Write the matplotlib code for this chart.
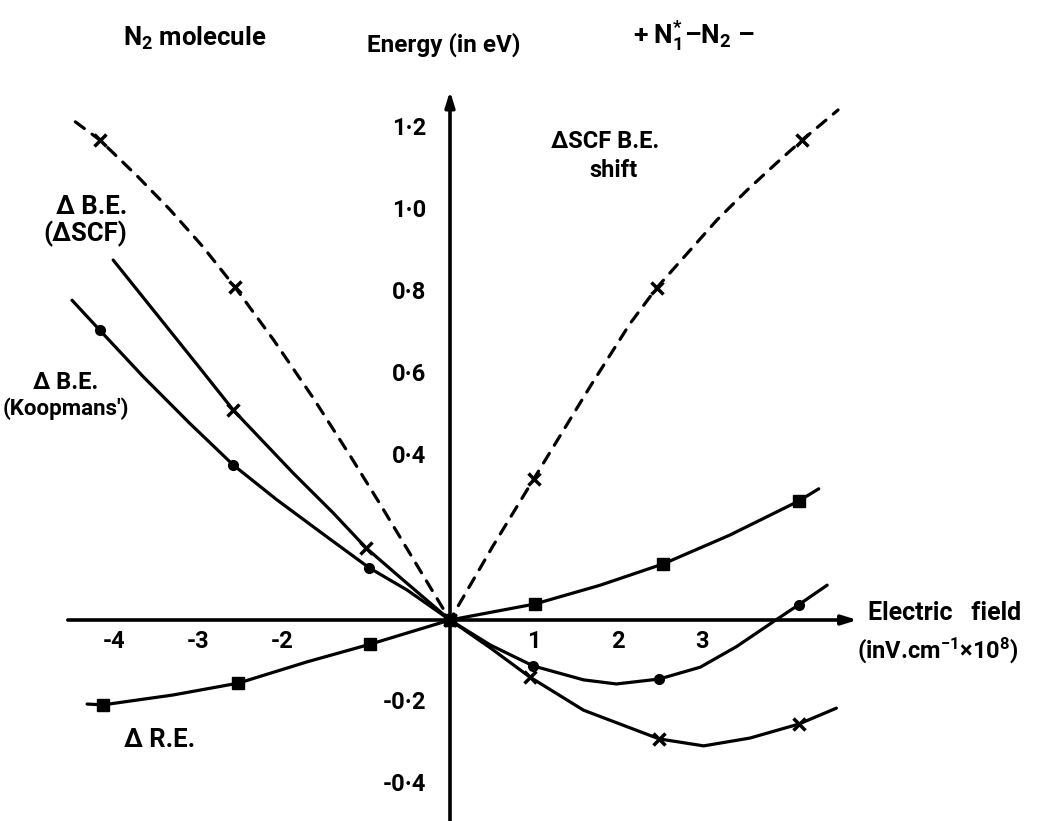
import matplotlib
matplotlib.use("Agg")
import matplotlib.pyplot as plt

# field in V/cm x 1e8, energies in eV
shift_x = [-4.46, -4.17, -3.71, -3.33, -2.94, -2.56, -2.1, -1.63, -1.19, -0.83, -0.48, 0,
           0.51, 1.0, 1.67, 2.14, 2.46, 2.82, 3.18, 3.54, 3.89, 4.19, 4.62]
shift_y = [1.215, 1.171, 1.08, 1.0, 0.91, 0.812, 0.683, 0.542, 0.401, 0.282, 0.163, 0,
           0.18, 0.345, 0.57, 0.722, 0.81, 0.893, 0.976, 1.049, 1.115, 1.17, 1.244]
shift_marks = [1, 5, 13, 16, 21]

scf_x = [-4.01, -3.45, -2.98, -2.58, -1.87, -1.39, -1.0, -0.56, 0,
         0.48, 0.95, 1.59, 2.49, 3.02, 3.57, 4.15, 4.6]
scf_y = [0.878, 0.735, 0.615, 0.512, 0.359, 0.261, 0.176, 0.098, 0,
         -0.068, -0.139, -0.22, -0.29, -0.307, -0.288, -0.254, -0.215]
scf_marks = [3, 6, 8, 10, 12, 15]

koop_x = [-4.5, -4.17, -3.65, -3.1, -2.58, -2.06, -1.46, -0.96, -0.51, 0,
          0.48, 0.99, 1.59, 1.98, 2.49, 2.98, 3.41, 3.85, 4.15, 4.49]
koop_y = [0.78, 0.707, 0.593, 0.48, 0.378, 0.293, 0.202, 0.127, 0.073, 0,
          -0.061, -0.112, -0.146, -0.156, -0.144, -0.115, -0.065, -0.004, 0.037, 0.085]
koop_marks = [1, 4, 7, 9, 11, 14, 18]

re_x = [-4.32, -4.13, -3.3, -2.52, -1.7, -0.95, 0, 1.01, 1.79, 2.54, 3.33, 4.15, 4.39]
re_y = [-0.205, -0.207, -0.183, -0.154, -0.102, -0.059, 0, 0.039, 0.085, 0.137, 0.207, 0.29, 0.32]
re_marks = [1, 3, 5, 6, 7, 9, 11]

xtick_vals = [-4, -3, -2, 1, 2, 3]
ytick_vals = [1.2, 1.0, 0.8, 0.6, 0.4, -0.2, -0.4]
ytick_text = ["1·2", "1·0", "0·8", "0·6", "0·4", "-0·2", "-0·4"]

plt.rcParams['font.family'] = ["Roboto", "DejaVu Sans"]
plt.rcParams['font.weight'] = 'bold'
plt.rcParams['mathtext.fontset'] = 'custom'
plt.rcParams['mathtext.bf'] = 'Roboto:bold'
plt.rcParams['mathtext.rm'] = 'Roboto:bold'
plt.rcParams['mathtext.default'] = 'bf'

W, H = 1037, 821
fig = plt.figure(figsize=(W/100, H/100), dpi=100)
ax = fig.add_axes([0, 0, 1, 1])
ox, oy, sx, sy = 450, 620, 84.0, 410.0   # origin pixel and pixels per unit
ax.set_xlim(-ox/sx, (W-ox)/sx)
ax.set_ylim(-(H-oy)/sy, oy/sy)
ax.axis('off')

arrow = dict(arrowstyle='-|>,head_length=0.9,head_width=0.28', lw=2.6, color='k', shrinkA=0, shrinkB=0)
ax.annotate("", xy=(4.85, 0), xytext=(-4.55, 0), arrowprops=arrow)
ax.annotate("", xy=(0, 1.29), xytext=(0, -0.5), arrowprops=arrow)

lw = 2.3
ax.plot(shift_x, shift_y, color='k', lw=lw, dashes=(3.5, 3), marker='x', ms=8, mew=2.5,
        markevery=shift_marks, dash_capstyle='round', dash_joinstyle='round')
ax.plot(scf_x, scf_y, color='k', lw=lw, marker='x', ms=8, mew=2.5, markevery=scf_marks,
        solid_joinstyle='round', solid_capstyle='round')
ax.plot(koop_x, koop_y, color='k', lw=lw, marker='o', ms=7, markevery=koop_marks,
        solid_joinstyle='round', solid_capstyle='round')
ax.plot(re_x, re_y, color='k', lw=lw, marker='s', ms=8, markevery=re_marks,
        solid_joinstyle='round', solid_capstyle='round')

fs = 17
for v in xtick_vals:
    ax.text(v, -0.052, "-" + str(-v) if v < 0 else str(v), ha='center', va='center', fontsize=fs)
for v, t in zip(ytick_vals, ytick_text):
    ax.text(-0.28, v, t, ha='right', va='center', fontsize=fs)

def ftext(px, py, s, size, **kw):
    fig.text(px/W, 1 - py/H, s, fontsize=size, va='center', **kw)

ftext(123, 38, r"N$_{2}$ molecule", 18.5, ha='left')
ftext(367, 45, "Energy (in eV)", 17.5, ha='left')
ftext(633, 36, r"+ N$_{1}^{*}$–N$_{2}$ –", 19, ha='left')
ftext(551, 142, "ΔSCF B.E.", 17, ha='left')
ftext(614, 170, "shift", 17, ha='center')
ftext(92, 207, "Δ B.E.", 18.5, ha='center')
ftext(85, 234, "(ΔSCF)", 18.5, ha='center')
ftext(66, 382, "Δ B.E.", 17, ha='center')
ftext(3, 409, "(Koopmans')", 16, ha='left')
ftext(160, 740, "Δ R.E.", 18.5, ha='center')
ftext(868, 613, "Electric   field", 18, ha='left')
ftext(857, 650, r"(inV.cm$^{-1}$×10$^{8}$)", 17, ha='left')

fig.savefig("out.png", dpi=100)
